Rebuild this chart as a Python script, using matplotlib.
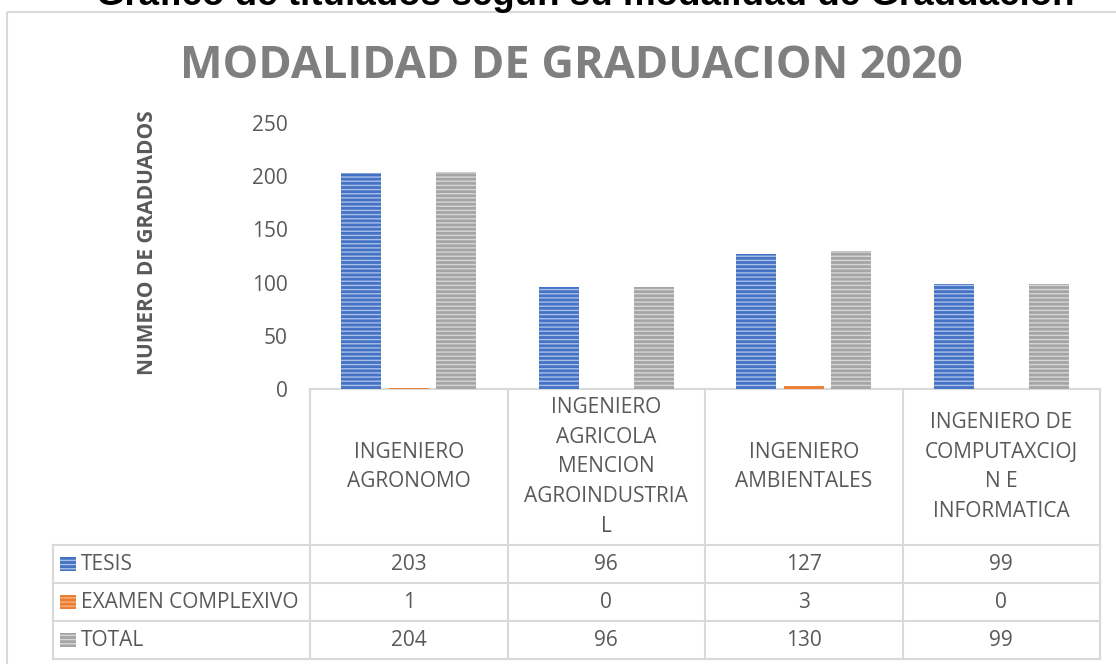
import numpy as np
import matplotlib
matplotlib.use("Agg")
import matplotlib.pyplot as plt
from matplotlib.patches import Rectangle

# data
carreras = [
    "INGENIERO\nAGRONOMO",
    "INGENIERO\nAGRICOLA\nMENCION\nAGROINDUSTRIA\nL",
    "INGENIERO\nAMBIENTALES",
    "INGENIERO DE\nCOMPUTAXCIOJ\nN E\nINFORMATICA",
]
series_names = ["TESIS", "EXAMEN COMPLEXIVO", "TOTAL"]
tesis = [203, 96, 127, 99]
examen = [1, 0, 3, 0]
total = [204, 96, 130, 99]
y_ticks = [0, 50, 100, 150, 200, 250]

TXT = "#595959"
GRID = "#d9d9d9"
FONT = "Open Sans"
# (face colour, stripe colour) per series
STYLES = [("#4472c4", "#a9bfe6"), ("#ed7d31", "#f4b183"), ("#a5a5a5", "#d6d6d6")]

plt.rcParams["hatch.linewidth"] = 1.0
plt.rcParams["font.family"] = FONT

W, H = 1116, 664
fig = plt.figure(figsize=(W / 100, H / 100), dpi=100)

# full-figure layer in pixel coords for frame, titles and the data table
bg = fig.add_axes([0, 0, 1, 1])
bg.set_xlim(0, W)
bg.set_ylim(H, 0)
bg.axis("off")

bg.add_patch(Rectangle((7, 12), 1300, 800, fill=False, edgecolor=GRID, lw=1.5))
bg.text(585, 5, "Gráfico de titulados según su modalidad de Graduación",
        ha="center", va="baseline", fontsize=26.5, fontweight="bold",
        family="Liberation Sans", color="black")
bg.text(571, 78, "MODALIDAD DE GRADUACION 2020", ha="center", va="baseline",
        fontsize=32.5, fontweight="bold", color="#7f7f7f")

# plot area
ax_l, ax_r, ax_t, ax_b = 310, 1100, 123, 389
ax = fig.add_axes([ax_l / W, (H - ax_b) / H, (ax_r - ax_l) / W, (ax_b - ax_t) / H])
ax.patch.set_alpha(0)

x = np.arange(len(carreras))
bw = 0.203
off = 0.241
for vals, k, (fc, hc) in zip([tesis, examen, total], [-1, 0, 1], STYLES):
    ax.bar(x + k * off, vals, width=bw, color=fc, edgecolor=hc, linewidth=0,
           hatch="----")

ax.set_xlim(-0.5, len(carreras) - 0.5)
ax.set_ylim(0, 250)
ax.set_xticks([])
ax.set_yticks(y_ticks)
ax.tick_params(axis="y", length=0, pad=16, labelsize=15, labelcolor=TXT)
for s in ax.spines.values():
    s.set_visible(False)
ax.set_ylabel("NUMERO DE GRADUADOS", fontsize=15, fontweight="bold",
              color=TXT, va="center")
ax.yaxis.set_label_coords(-0.206, 0.55)

# data table under the plot
ncol = len(carreras)
col_w = (ax_r - ax_l) / ncol
col_edges = [ax_l + i * col_w for i in range(ncol + 1)]
row_edges = [545, 583, 621, 659]
leg_l = 53

lc = dict(color=GRID, lw=1.5)
bg.plot([ax_l, ax_r], [ax_b, ax_b], **lc)
for y in row_edges:
    bg.plot([leg_l, ax_r], [y, y], **lc)
for xe in col_edges:
    bg.plot([xe, xe], [ax_b, row_edges[-1]], **lc)
bg.plot([leg_l, leg_l], [row_edges[0], row_edges[-1]], **lc)

for i, name in enumerate(carreras):
    cx = (col_edges[i] + col_edges[i + 1]) / 2
    bg.text(cx, 467, name, ha="center", va="center", fontsize=15,
            color=TXT, linespacing=1.55)

for r, (name, vals, (fc, hc)) in enumerate(zip(series_names, [tesis, examen, total], STYLES)):
    cy = (row_edges[r] + row_edges[r + 1]) / 2
    bg.add_patch(Rectangle((60, cy - 7), 16, 14, facecolor=fc, edgecolor=hc,
                           linewidth=0, hatch="----"))
    bg.text(81, cy, name, ha="left", va="center", fontsize=15, color=TXT)
    for i, v in enumerate(vals):
        cx = (col_edges[i] + col_edges[i + 1]) / 2
        bg.text(cx, cy, str(v), ha="center", va="center", fontsize=15, color=TXT)

fig.savefig("out.png", dpi=100)
